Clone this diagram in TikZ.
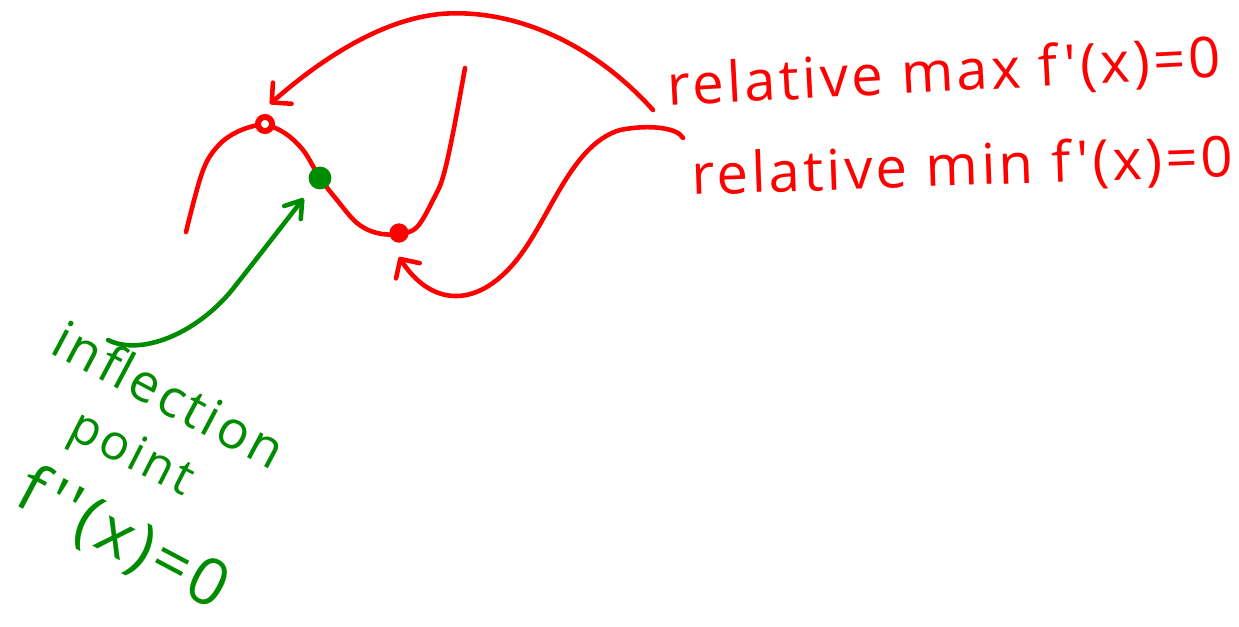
\documentclass[tikz,border=0pt]{standalone}
\usepackage{fontspec}
\setmainfont{Open Sans}
\newfontfamily\handfont[LetterSpace=6]{Open Sans}
\usepackage{tikz}
\usetikzlibrary{arrows.meta}
\definecolor{penred}{RGB}{255,0,0}
\definecolor{pengreen}{RGB}{0,140,0}

\begin{document}
\begin{tikzpicture}[x=0.02cm,y=-0.02cm,
  pen/.style={line width=2.6pt,line cap=round,line join=round},
  redarr/.style={pen,draw=penred,-{Straight Barb[length=8pt,width=16pt,round]}},
  greenarr/.style={pen,draw=pengreen,-{Straight Barb[length=9pt,width=12pt,round]}},
  lbl/.style={font=\handfont\fontsize{#1}{36}\selectfont,inner sep=0pt,anchor=base west},
  dot/.style={circle,inner sep=0pt,minimum size=#1}
]
\useasboundingbox (0,0) rectangle (1239,626);

% the function
\draw[pen,penred] plot[smooth,tension=0.6] coordinates {(186,232) (202,173) (217,147)
  (237,132) (262,125) (283,132) (303,150) (320,178) (337,200) (357,223) (377,233)
  (399,234) (417,227) (433,200) (443,177) (453,133) (465,68)};

\node[dot=8pt,draw=penred,line width=3.4pt,fill=white] (maxdot) at (265,124) {};
\node[dot=11pt,fill=penred] (mindot) at (399,233) {};
\node[dot=13pt,fill=pengreen] (infdot) at (320,178) {};

% labels
\node[lbl=32,text=penred,rotate=3] (maxlbl) at (668,106) {relative max f'(x)=0};
\node[lbl=32,text=penred,rotate=2] (minlbl) at (692,195) {relative min f'(x)=0};
\node[lbl=30,text=pengreen,rotate=-28] (inflbl) at (48,352) {inflection};
\node[lbl=28,text=pengreen,rotate=-27] (ptlbl) at (66,436) {point};
\node[lbl=37,text=pengreen,rotate=-28] (f2lbl) at (12,503) {f''(x)=0};

\coordinate (maxtail) at (653,110);
\coordinate (mintail) at (683,138);
\coordinate (inftail) at (108,340);

\draw[redarr] (maxtail) .. controls (590,40) and (510,8) .. (440,14)
  .. controls (380,20) and (320,60) .. ([shift={(5,-10)}]maxdot.north);
\draw[redarr] (mintail) .. controls (678,128) and (650,124) .. (620,130)
  .. controls (570,145) and (550,220) .. (515,262)
  .. controls (475,310) and (430,305) .. ([shift={(0,14)}]mindot.south);
\draw[greenarr] (inftail) .. controls (140,356) and (195,335) .. (232,290)
  .. controls (262,252) and (285,222) .. ([shift={(-8,12)}]infdot.south west);
\end{tikzpicture}
\end{document}
